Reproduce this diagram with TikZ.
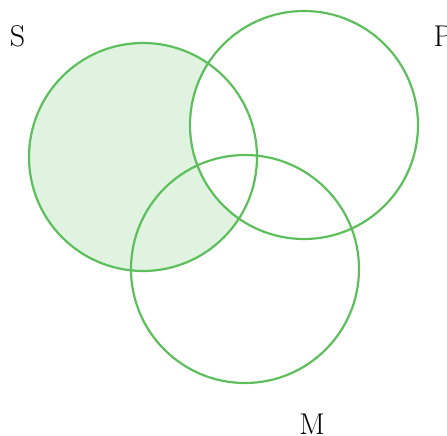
\documentclass[tikz,border=0pt]{standalone}
\usepackage{fontspec}
\usepackage{tikz}
\definecolor{vgreen}{HTML}{5CBF5C}
\definecolor{vfill}{HTML}{E0F2E0}
\begin{document}
\begin{tikzpicture}[x=1pt,y=-1pt,
  setcircle/.style={circle,draw=vgreen,line width=2.2pt,minimum size=228pt,inner sep=0pt},
  lbl/.style={font=\fontsize{30}{34}\selectfont,inner sep=0pt}]
\useasboundingbox (0,0) rectangle (447,436);
% shading S minus P
\begin{scope}
  \clip (143,157) circle (114);
  \fill[vfill] (143,157) circle (114);
  \fill[white] (304,125) circle (114);
\end{scope}
\node[setcircle] (S) at (143,157) {};
\node[setcircle] (P) at (304,125) {};
\node[setcircle] (M) at (245,269) {};
\node[lbl] (ls) at (17.5,36) {S};
\node[lbl] (lp) at (443,36) {P};
\node[lbl] (lm) at (312,424) {M};
\end{tikzpicture}
\end{document}
